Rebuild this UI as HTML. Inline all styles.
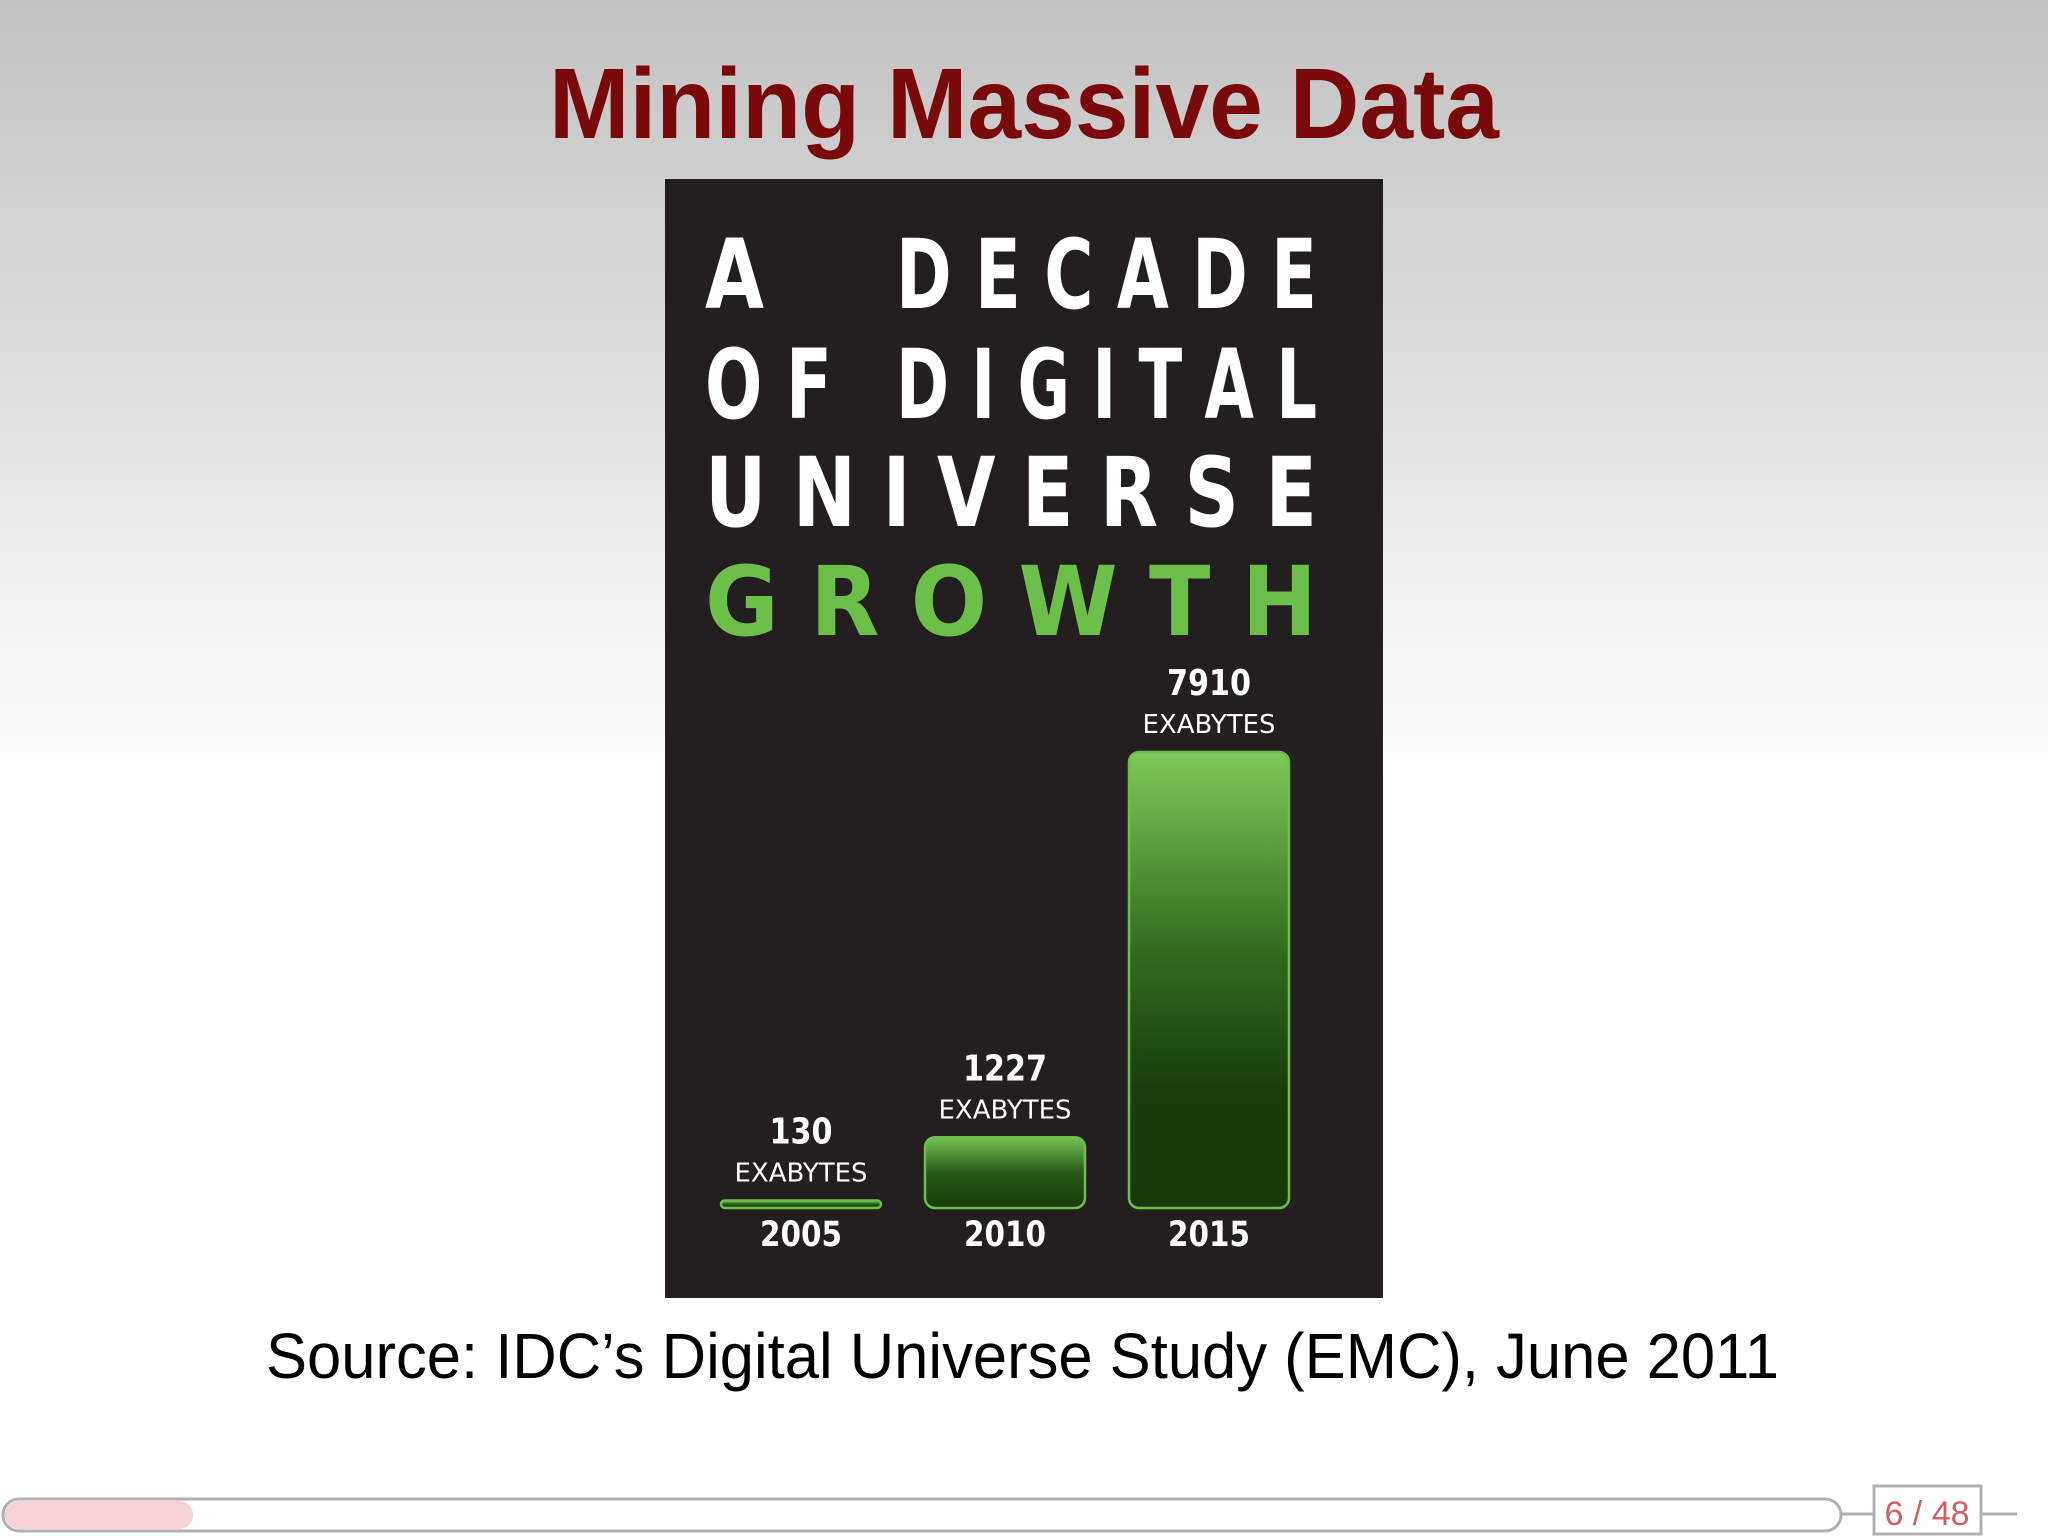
<!DOCTYPE html>
<html><head><meta charset="utf-8"><style>
html,body{margin:0;padding:0;width:2048px;height:1536px;overflow:hidden}
body{background:linear-gradient(to bottom,#c2c2c2 0px,#e4e4e4 450px,#ffffff 780px,#ffffff 1536px);font-family:"Liberation Sans",sans-serif}
svg{position:absolute;left:0;top:0}
</style></head><body>
<svg width="2048" height="1536" viewBox="0 0 2048 1536">
<defs>
<linearGradient id="barGrad" x1="0" y1="0" x2="0" y2="1">
<stop offset="0" stop-color="#7ccb58"/><stop offset="0.45" stop-color="#2f6a1c"/><stop offset="0.75" stop-color="#1b3c0c"/><stop offset="1" stop-color="#183a0a"/>
</linearGradient>
<linearGradient id="barGradS" x1="0" y1="0" x2="0" y2="1">
<stop offset="0" stop-color="#74c455"/><stop offset="0.5" stop-color="#285a17"/><stop offset="1" stop-color="#183a0a"/>
</linearGradient>
</defs>
<text x="1024" y="138" text-anchor="middle" font-family="Liberation Sans, sans-serif" font-weight="bold" font-size="100" fill="#7a0a0a" textLength="950" lengthAdjust="spacingAndGlyphs">Mining Massive Data</text>
<rect x="665" y="179" width="718" height="1119" fill="#231f20"/>
<g font-family="DejaVu Sans, Liberation Sans, sans-serif" font-weight="bold" font-size="96" fill="#ffffff">
<text x="705" y="308" textLength="59" lengthAdjust="spacingAndGlyphs">A</text>
<text x="896" y="308" textLength="421" lengthAdjust="spacingAndGlyphs">D E C A D E</text>
<text x="705" y="418" textLength="127" lengthAdjust="spacingAndGlyphs">O F</text>
<text x="896" y="418" textLength="421" lengthAdjust="spacingAndGlyphs">D I G I T A L</text>
<text x="705" y="526" textLength="612" lengthAdjust="spacingAndGlyphs">U N I V E R S E</text>
<text x="705" y="635" textLength="612" lengthAdjust="spacingAndGlyphs" fill="#6cc04a">G  R  O  W  T  H</text>
</g>
<g id="bars"></g>
<text x="266" y="1378" font-family="Liberation Sans, sans-serif" font-size="64" fill="#000" textLength="1513" lengthAdjust="spacingAndGlyphs">Source: IDC’s Digital Universe Study (EMC), June 2011</text>
<rect x="3" y="1499" width="1838" height="32" rx="16" fill="#fff" stroke="#b0b0b0" stroke-width="3"/>
<rect x="5" y="1501" width="188" height="28" rx="14" fill="#f6d2d4"/>
<line x1="1841" y1="1514" x2="1874" y2="1514" stroke="#b0b0b0" stroke-width="3"/>
<rect x="1874" y="1486" width="107" height="48" fill="#fff" stroke="#b0b0b0" stroke-width="3"/>
<line x1="1981" y1="1514" x2="2017" y2="1514" stroke="#b0b0b0" stroke-width="3"/>
<text x="1927" y="1525" text-anchor="middle" font-family="Liberation Sans, sans-serif" font-size="34" fill="#d06060">6 / 48</text>
</svg>
<script>
const years = ["2005","2010","2015"];
const values = [130,1227,7910];
const valueLabels = ["130","1227","7910"];
const NS="http://www.w3.org/2000/svg";
const g=document.getElementById('bars');
const baseY=1208, maxH=456, maxV=7910;
function yScale(v){return baseY - v/maxV*maxH;}
function xCenter(i){return 801 + i*204;}
const barW=160;
function mk(tag,attrs){const e=document.createElementNS(NS,tag);for(const k in attrs)e.setAttribute(k,attrs[k]);g.appendChild(e);return e;}
years.forEach((yr,i)=>{
  const cx=xCenter(i), top=yScale(values[i]), h=baseY-top;
  const r=Math.min(10,h/2);
  const bar=mk('rect',{x:cx-barW/2,y:top,width:barW,height:Math.max(h,2),rx:r,fill:h>100?'url(#barGrad)':'url(#barGradS)',stroke:'#6cc04a','stroke-width':2.5});
  
  
  const vl=valueLabels[i];
  const v=mk('text',{x:cx,y:top-57,'text-anchor':'middle','font-family':'DejaVu Sans, Liberation Sans, sans-serif','font-weight':'bold','font-size':36,fill:'#fff',textLength:vl.length*21,lengthAdjust:'spacingAndGlyphs'});
  v.textContent=vl;
  
  
  const u=mk('text',{x:cx,y:top-19,'text-anchor':'middle','font-family':'DejaVu Sans, Liberation Sans, sans-serif','font-size':26,fill:'#fff',textLength:133,lengthAdjust:'spacingAndGlyphs'});
  u.textContent='EXABYTES';
  
  
  const t=mk('text',{x:cx,y:1246,'text-anchor':'middle','font-family':'DejaVu Sans, Liberation Sans, sans-serif','font-weight':'bold','font-size':35,fill:'#fff',textLength:82,lengthAdjust:'spacingAndGlyphs'});
  t.textContent=yr;
  
  
});
</script>
</body></html>
